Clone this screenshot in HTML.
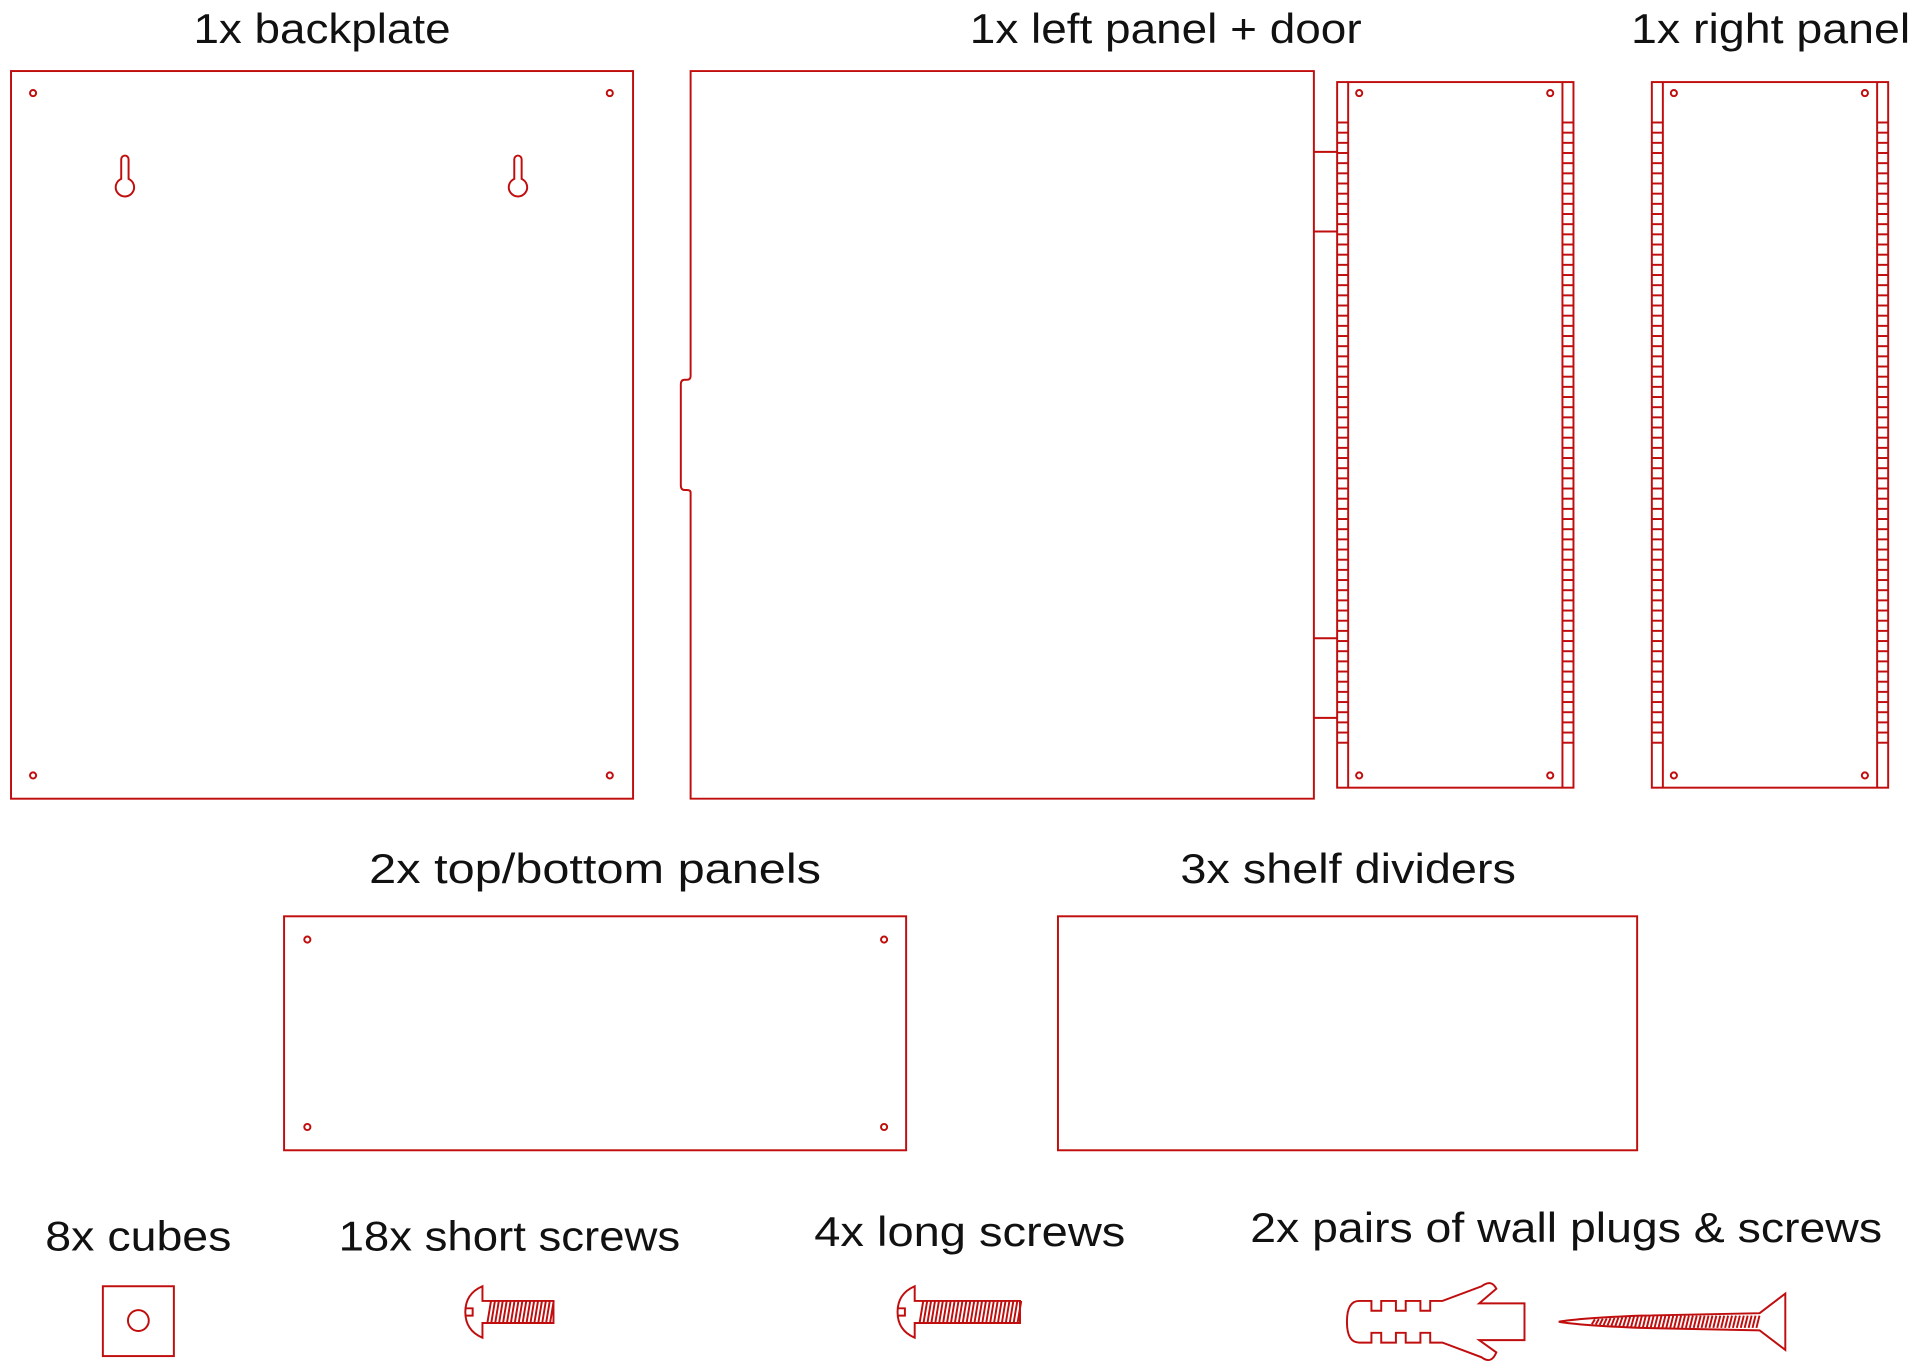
<!DOCTYPE html>
<html><head><meta charset="utf-8"><style>
html,body{margin:0;padding:0;background:#fff;width:1920px;height:1372px;overflow:hidden}
svg{display:block}
text{font-family:"Liberation Sans",sans-serif;font-size:34px;fill:#111;text-anchor:middle}
</style></head><body>
<svg id="s" width="1920" height="1372" viewBox="0 0 1568 1120" preserveAspectRatio="none">
<g fill="none" stroke="#c00d0d" stroke-width="1.6" id="g">
<rect x="9" y="58" width="508" height="594"/>
<circle cx="27" cy="76" r="2.5"/><circle cx="498" cy="76" r="2.5"/>
<circle cx="27" cy="633" r="2.5"/><circle cx="498" cy="633" r="2.5"/>
<path d="M99,146 L99,130 A3,3 0 0 1 105,130 L105,146 A7.5,7.5 0 1 1 99,146 Z"/>
<path d="M420,146 L420,130 A3,3 0 0 1 426,130 L426,146 A7.5,7.5 0 1 1 420,146 Z"/>
<path d="M564,58 L1073,58 L1073,652 L564,652 L564,402 Q564,400 561,400 L559,400 Q556,400 556,396 L556,314 Q556,310 559,310 L561,310 Q564,310 564,307 Z"/>
<path d="M1073,124 L1092,124 M1073,189 L1092,189 M1073,521 L1092,521 M1073,586 L1092,586"/>
<rect x="1092" y="67" width="193" height="576"/>
<line x1="1101" y1="67" x2="1101" y2="643"/><line x1="1276" y1="67" x2="1276" y2="643"/>
<circle cx="1110" cy="76" r="2.5"/><circle cx="1266" cy="76" r="2.5"/>
<circle cx="1110" cy="633" r="2.5"/><circle cx="1266" cy="633" r="2.5"/>
<rect x="1349" y="67" width="193" height="576"/>
<line x1="1358" y1="67" x2="1358" y2="643"/><line x1="1533" y1="67" x2="1533" y2="643"/>
<circle cx="1367" cy="76" r="2.5"/><circle cx="1523" cy="76" r="2.5"/>
<circle cx="1367" cy="633" r="2.5"/><circle cx="1523" cy="633" r="2.5"/>
<rect x="232" y="748" width="508" height="191"/>
<circle cx="251" cy="767" r="2.5"/><circle cx="722" cy="767" r="2.5"/>
<circle cx="251" cy="920" r="2.5"/><circle cx="722" cy="920" r="2.5"/>
<rect x="864" y="748" width="473" height="191"/>
<rect x="84" y="1050" width="58" height="57"/>
<circle cx="113" cy="1078" r="8.5"/>
<path d="M394,1050 Q380,1056 380,1071 Q380,1086 394,1092 L394,1080 L452,1080 L452,1062 L394,1062 Z M380,1068 L386,1068 L386,1074 L380,1074"/>
<path d="M747,1050 Q733,1056 733,1071 Q733,1086 747,1092 L747,1080 L833,1080 L833,1062 L747,1062 Z M733,1068 L739,1068 L739,1074 L733,1074"/>
<path d="M1110,1062 L1120,1062 L1120,1070 L1128,1070 L1128,1062 L1140,1062 L1140,1070 L1148,1070 L1148,1062 L1160,1062 L1160,1070 L1168,1070 L1168,1062 L1178,1062 L1210,1050 Q1218,1044 1222,1052 L1208,1064 L1245,1064 L1245,1094 L1208,1094 L1222,1104 Q1218,1114 1210,1108 L1178,1096 L1168,1096 L1168,1088 L1160,1088 L1160,1096 L1148,1096 L1148,1088 L1140,1088 L1140,1096 L1128,1096 L1128,1088 L1120,1088 L1120,1096 L1110,1096 Q1100,1096 1100,1079 Q1100,1062 1110,1062 Z"/>
<path d="M1437,1072 L1458,1056 L1458,1102 L1437,1086 L1340,1084 Q1290,1082 1273,1079 Q1290,1076 1340,1074 Z"/>
</g>
<text x="263" y="35" textLength="210" lengthAdjust="spacingAndGlyphs">1x backplate</text>
<text x="952" y="35" textLength="320" lengthAdjust="spacingAndGlyphs">1x left panel + door</text>
<text x="1446" y="35" textLength="228" lengthAdjust="spacingAndGlyphs">1x right panel</text>
<text x="486" y="721" textLength="369" lengthAdjust="spacingAndGlyphs">2x top/bottom panels</text>
<text x="1101" y="721" textLength="274" lengthAdjust="spacingAndGlyphs">3x shelf dividers</text>
<text x="113" y="1021" textLength="152" lengthAdjust="spacingAndGlyphs">8x cubes</text>
<text x="416" y="1021" textLength="279" lengthAdjust="spacingAndGlyphs">18x short screws</text>
<text x="792" y="1017" textLength="254" lengthAdjust="spacingAndGlyphs">4x long screws</text>
<text x="1279" y="1014" textLength="516" lengthAdjust="spacingAndGlyphs">2x pairs of wall plugs &amp; screws</text>
</svg>
<script>
var g=document.getElementById('g'),ns='http://www.w3.org/2000/svg';
function L(a,b,c,d){var l=document.createElementNS(ns,'line');l.setAttribute('x1',a);l.setAttribute('y1',b);l.setAttribute('x2',c);l.setAttribute('y2',d);g.appendChild(l);}
[[1092,1101],[1276,1285],[1349,1358],[1533,1542]].forEach(function(r){
 for(var y=100;y<=612;y+=8.3){L(r[0],y,r[1],y);}
});
for(var x=398;x<452;x+=3.2)L(x,1080,x+3,1062);
for(var x=751;x<833;x+=3.2)L(x,1080,x+3,1062);
for(var x=1300;x<1437;x+=3.2){var h=x<1340?(x-1273)/67*5:5;L(x,1079+h,x+2.5,1079-h);}
</script>
</body></html>
